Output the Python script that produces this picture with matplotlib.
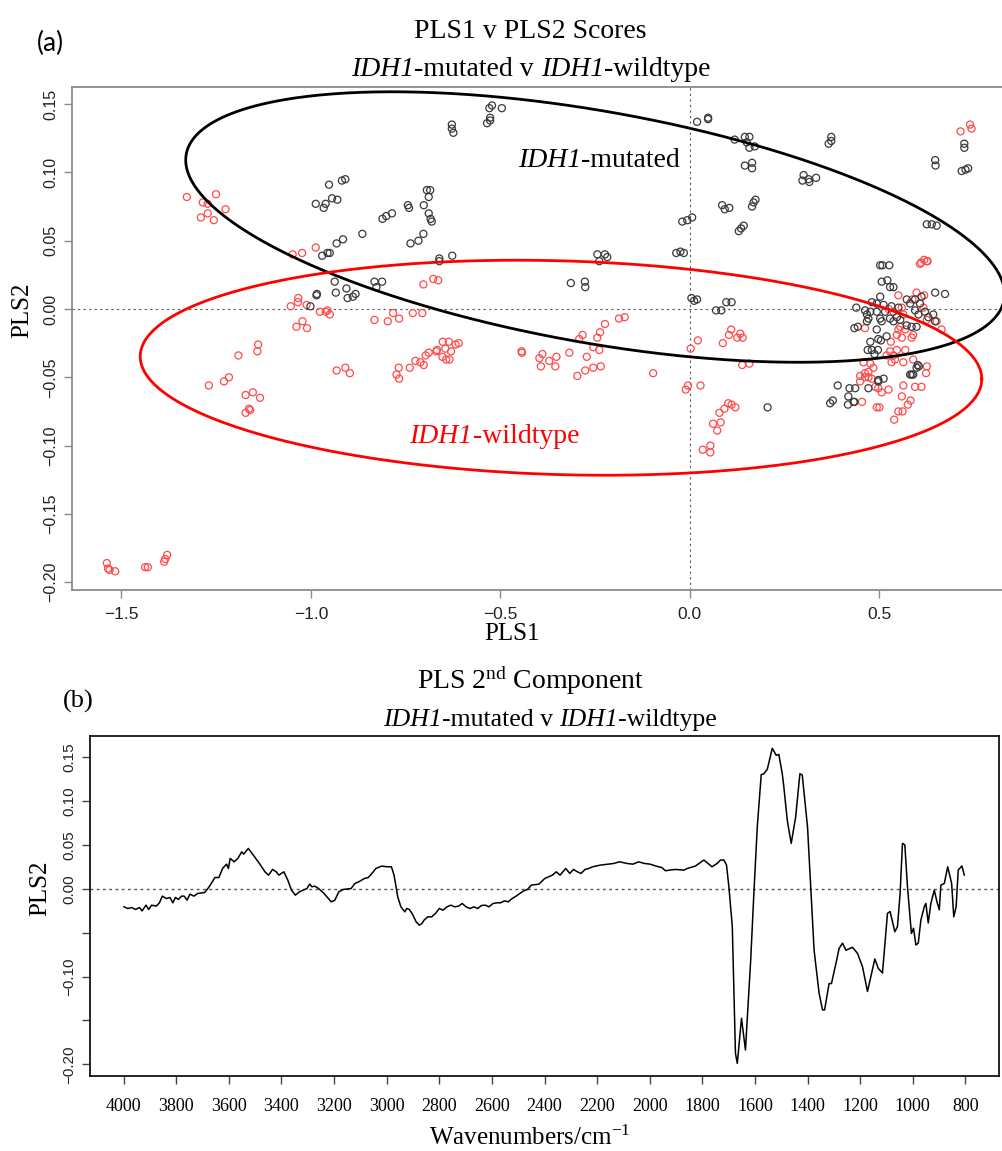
import numpy as np
import matplotlib
matplotlib.use("Agg")
import matplotlib.pyplot as plt
from matplotlib.offsetbox import TextArea, HPacker, AnnotationBbox

plt.rcParams['font.family'] = ['Liberation Serif', 'DejaVu Serif']
plt.rcParams['mathtext.fontset'] = 'custom'
plt.rcParams['mathtext.rm'] = 'Liberation Serif'
plt.rcParams['mathtext.it'] = 'Liberation Serif:italic'
plt.rcParams['mathtext.bf'] = 'Liberation Serif:bold'

# ---------------- Panel (a) data: PLS scores ----------------
mut_pls1 = [-0.952, -0.918, -0.909, -0.987, -0.961, -0.966, -0.944, -0.930, -0.864, -0.915,
            -0.932, -0.970, -0.956, -0.950, -0.937, -0.934, -0.906, -0.903, -0.889, -0.882,
            -0.985, -0.984, -1.001, -0.832, -0.812, -0.827, -0.811, -0.801, -0.786, -0.737,
            -0.716, -0.703, -0.744, -0.741, -0.702, -0.694, -0.685, -0.689, -0.689, -0.684,
            -0.681, -0.661, -0.661, -0.627, -0.628, -0.628, -0.624, -0.529, -0.522, -0.496,
            -0.535, -0.527, -0.527,
            0.019, 0.048, 0.048, 0.118, 0.145, 0.157, 0.157, 0.171, 0.150, 0.145,
            0.164, 0.164, 0.373, 0.373, 0.366, 0.300, 0.297, 0.313, 0.315, 0.333,
            0.085, 0.092, 0.104, 0.164, 0.173, 0.168, 0.129, 0.142, 0.135, -0.020,
            -0.007, 0.006, -0.036, -0.025, -0.016, -0.244, -0.224, -0.218, -0.239, -0.314,
            -0.277, -0.276, 0.004, 0.011, 0.019, 0.069, 0.083, 0.096, 0.110, 0.625,
            0.638, 0.651, 0.647, 0.648, 0.724, 0.724, 0.717, 0.734, 0.727, 0.647,
            0.673,
            0.205, 0.370, 0.377, 0.390, 0.421, 0.436, 0.471, 0.418, 0.417, 0.434,
            0.497, 0.511, 0.585, 0.598, 0.604,
            0.502, 0.508, 0.526, 0.506, 0.521, 0.528, 0.537, 0.502, 0.480, 0.493,
            0.439, 0.462, 0.476, 0.493, 0.511, 0.515, 0.532, 0.550, 0.572, 0.581,
            0.594, 0.607, 0.611, 0.594, 0.603, 0.620, 0.629, 0.642, 0.647, 0.467,
            0.471, 0.467, 0.502, 0.506, 0.528, 0.537, 0.546, 0.555, 0.572, 0.585,
            0.598, 0.434, 0.443, 0.493, 0.497, 0.504, 0.519, 0.476, 0.469, 0.480,
            0.496, 0.487, 0.601, 0.581, 0.589, 0.432, 0.497]
mut_pls2 = [0.091, 0.094, 0.095, 0.077, 0.077, 0.074, 0.081, 0.080, 0.055, 0.051,
            0.048, 0.039, 0.041, 0.041, 0.020, 0.012, 0.015, 0.008, 0.009, 0.011,
            0.010, 0.011, 0.002, 0.020, 0.020, 0.016, 0.066, 0.068, 0.070, 0.048,
            0.050, 0.055, 0.076, 0.074, 0.076, 0.087, 0.087, 0.082, 0.070, 0.066,
            0.064, 0.037, 0.035, 0.039, 0.135, 0.132, 0.129, 0.147, 0.149, 0.147,
            0.136, 0.138, 0.140,
            0.137, 0.140, 0.139, 0.124, 0.126, 0.126, 0.118, 0.119, 0.122, 0.105,
            0.107, 0.103, 0.126, 0.123, 0.121, 0.098, 0.094, 0.095, 0.093, 0.096,
            0.076, 0.073, 0.074, 0.075, 0.080, 0.078, 0.057, 0.061, 0.059, 0.064,
            0.065, 0.067, 0.041, 0.042, 0.041, 0.040, 0.040, 0.038, 0.035, 0.019,
            0.020, 0.016, 0.008, 0.006, 0.007, -0.001, -0.001, 0.005, 0.005, 0.062,
            0.062, 0.061, 0.109, 0.105, 0.121, 0.118, 0.101, 0.103, 0.102, 0.012,
            0.011,
            -0.072, -0.069, -0.067, -0.056, -0.058, -0.058, -0.058, -0.064, -0.070, -0.068,
            -0.053, -0.051, -0.048, -0.043, -0.042,
            0.032, 0.032, 0.032, 0.020, 0.021, 0.016, 0.016, 0.009, 0.005, 0.004,
            0.001, -0.001, -0.002, -0.002, 0.003, -0.002, 0.002, 0.001, 0.007, 0.004,
            0.007, 0.004, 0.009, -0.001, -0.004, -0.002, -0.006, -0.004, -0.009, -0.004,
            -0.007, -0.009, -0.007, -0.009, -0.007, -0.009, -0.006, -0.008, -0.012, -0.013,
            -0.013, -0.014, -0.013, -0.015, -0.022, -0.023, -0.020, -0.024, -0.030, -0.030,
            -0.030, -0.033, -0.041, -0.048, -0.048, -0.068, -0.052]

wt_pls1 = [-1.327, -1.285, -1.250, -1.272, -1.225, -1.290, -1.272, -1.256, -1.048, -1.023,
           -0.987, -0.703, -0.677, -0.664, -1.033, -1.034, -1.053, -1.011, -0.976, -0.961,
           -0.956, -0.950, -0.832, -0.797, -0.783, -0.767, -0.731, -0.706, -1.022, -1.038,
           -1.010, -1.139, -1.141, -1.191, -0.652, -0.636, -0.610, -0.618, -0.645, -0.630,
           -0.667, -0.669, -0.689, -0.697, -0.653, -0.643, -0.634, -0.724, -0.711, -0.702,
           -0.739, -0.768, -0.774, -0.932, -0.909, -0.897,
           -0.767, -1.269, -1.229, -1.216, -1.172, -1.153, -1.134, -1.172, -1.160, -1.163,
           -1.538, -1.535, -1.531, -1.516, -1.437, -1.430, -1.387, -1.384, -1.379,
           0.714, 0.739, 0.743, 0.610, 0.627, 0.618, -0.187, -0.172, -0.224, -0.237,
           -0.244, -0.283, -0.292, -0.255, -0.239, -0.318, -0.272, -0.352, -0.389, -0.397,
           -0.371, -0.355, -0.393, -0.444, -0.443, -0.097, -0.297, -0.276, -0.255, -0.235,
           0.002, 0.021, 0.087, 0.103, 0.109, 0.133, 0.139, 0.125, 0.138, 0.157,
           -0.011, -0.005, 0.028, 0.061, 0.081, 0.072, 0.078, 0.091, 0.101, 0.110,
           0.120, 0.034, 0.054, 0.054, 0.454, 0.489, 0.497, 0.506, 0.524, 0.493,
           0.500, 0.563, 0.559, 0.575, 0.582, 0.539, 0.550, 0.561, 0.594, 0.611,
           0.625, 0.623, 0.449, 0.462, 0.471, 0.484,
           0.625, 0.607, 0.550, 0.598, 0.618, 0.587, 0.524, 0.537, 0.559, 0.563,
           0.616, 0.625, 0.651, 0.664, 0.462, 0.555, 0.550, 0.546, 0.559, 0.585,
           0.589, 0.546, 0.568, 0.528, 0.519, 0.537, 0.541, 0.532, 0.563, 0.589,
           0.458, 0.476, 0.462, 0.449, 0.471, 0.480, 0.568, 0.530]
wt_pls2 = [0.082, 0.078, 0.084, 0.077, 0.073, 0.067, 0.070, 0.065, 0.040, 0.041,
           0.045, 0.018, 0.022, 0.021, 0.008, 0.005, 0.002, 0.003, -0.002, -0.002,
           -0.001, -0.004, -0.008, -0.009, -0.003, -0.007, -0.003, -0.003, -0.009, -0.013,
           -0.014, -0.026, -0.031, -0.034, -0.024, -0.024, -0.025, -0.026, -0.029, -0.031,
           -0.030, -0.031, -0.032, -0.034, -0.035, -0.037, -0.037, -0.038, -0.039, -0.041,
           -0.043, -0.043, -0.048, -0.045, -0.043, -0.047,
           -0.051, -0.056, -0.053, -0.050, -0.063, -0.061, -0.065, -0.076, -0.074, -0.073,
           -0.186, -0.190, -0.191, -0.192, -0.189, -0.189, -0.185, -0.183, -0.180,
           0.130, 0.135, 0.132, 0.034, 0.035, 0.036, -0.007, -0.006, -0.011, -0.017,
           -0.021, -0.019, -0.022, -0.028, -0.030, -0.032, -0.035, -0.035, -0.033, -0.036,
           -0.038, -0.042, -0.042, -0.031, -0.032, -0.047, -0.049, -0.045, -0.043, -0.042,
           -0.029, -0.023, -0.025, -0.019, -0.015, -0.018, -0.021, -0.021, -0.041, -0.040,
           -0.059, -0.056, -0.056, -0.084, -0.083, -0.089, -0.076, -0.073, -0.069, -0.070,
           -0.072, -0.103, -0.100, -0.105, -0.068, -0.057, -0.058, -0.061, -0.059, -0.072,
           -0.072, -0.056, -0.064, -0.070, -0.067, -0.081, -0.075, -0.075, -0.057, -0.057,
           -0.042, -0.047, -0.053, -0.050, -0.046, -0.043,
           0.035, 0.033, 0.010, 0.012, 0.010, 0.007, 0.000, -0.002, 0.001, -0.004,
           0.001, -0.008, -0.009, -0.015, -0.014, -0.013, -0.015, -0.019, -0.021, -0.021,
           -0.019, -0.030, -0.030, -0.031, -0.034, -0.034, -0.037, -0.039, -0.039, -0.037,
           -0.039, -0.040, -0.047, -0.049, -0.050, -0.051, -0.015, -0.024]

# confidence ellipses: centre, half-ranges and phase (degrees)
mut_ellipse = dict(cx=-0.25, cy=0.060, rx=1.08, ry=0.099, phase=119.7)
wt_ellipse = dict(cx=-0.34, cy=-0.043, rx=1.11, ry=0.0787, phase=96.0)

# ---------------- Panel (b) data: PLS 2nd component loading ----------------
wavenumber = [3999, 3984, 3969, 3955, 3940, 3930, 3915, 3905, 3894, 3876,
              3864, 3853, 3838, 3824, 3813, 3803, 3792, 3780, 3770, 3759,
              3748, 3733, 3719, 3692, 3675, 3653, 3638, 3624, 3609, 3602,
              3595, 3580, 3566, 3551, 3544, 3526, 3507, 3482, 3463, 3449,
              3434, 3420, 3410, 3391, 3376, 3362, 3347, 3332, 3318, 3303,
              3293, 3284, 3274, 3259, 3238, 3211, 3197, 3182, 3165, 3135,
              3121, 3106, 3085, 3070, 3051, 3041, 3019, 2997, 2982, 2972,
              2958, 2946, 2931, 2924, 2914, 2902, 2888, 2876, 2866, 2858,
              2844, 2829, 2815, 2800, 2786, 2771, 2756, 2742, 2727, 2713,
              2698, 2683, 2669, 2654, 2640, 2625, 2611, 2596, 2581, 2567,
              2552, 2538, 2523, 2508, 2494, 2479, 2465, 2450, 2421, 2399,
              2385, 2370, 2355, 2341, 2319, 2304, 2290, 2275, 2261, 2246,
              2232, 2217, 2188, 2159, 2137, 2115, 2086, 2064, 2042, 2020,
              1998, 1976, 1954, 1940, 1925, 1903, 1870, 1858, 1826, 1794,
              1763, 1743, 1731, 1718, 1708, 1699, 1686, 1674, 1667, 1651,
              1636, 1616, 1604, 1591, 1576, 1566, 1553, 1543, 1534, 1519,
              1509, 1496, 1490, 1477, 1462, 1445, 1429, 1420, 1400, 1388,
              1375, 1356, 1343, 1335, 1318, 1309, 1289, 1280, 1267, 1254,
              1229, 1210, 1191, 1172, 1159, 1144, 1131, 1115, 1096, 1086,
              1068, 1058, 1048, 1039, 1030, 1020, 1005, 997, 988, 979,
              969, 956, 950, 941, 931, 918, 908, 899, 893, 880,
              867, 852, 844, 835, 827, 813, 804]
pls2_loading = [-0.0206, -0.0225, -0.0214, -0.0236, -0.0214, -0.0252, -0.0187, -0.0236, -0.0187, -0.0198,
                -0.0160, -0.0084, -0.0111, -0.0100, -0.0160, -0.0100, -0.0122, -0.0084, -0.0084, -0.0130,
                -0.0062, -0.0084, -0.0054, -0.0043, 0.0022, 0.0128, 0.0128, 0.0231, 0.0280, 0.0231,
                0.0345, 0.0307, 0.0345, 0.0421, 0.0394, 0.0459, 0.0383, 0.0280, 0.0193, 0.0155,
                0.0220, 0.0193, 0.0155, 0.0193, 0.0098, -0.0016, -0.0073, -0.0035, -0.0016, 0.0003,
                0.0053, 0.0022, 0.0030, 0.0003, -0.0054, -0.0149, -0.0130, -0.0035, -0.0008, 0.0003,
                0.0060, 0.0079, 0.0117, 0.0128, 0.0193, 0.0231, 0.0258, 0.0250, 0.0250, 0.0155,
                -0.0092, -0.0206, -0.0263, -0.0225, -0.0236, -0.0290, -0.0377, -0.0415, -0.0396, -0.0358,
                -0.0320, -0.0320, -0.0282, -0.0225, -0.0244, -0.0206, -0.0187, -0.0206, -0.0198, -0.0168,
                -0.0206, -0.0225, -0.0206, -0.0225, -0.0191, -0.0187, -0.0206, -0.0168, -0.0160, -0.0160,
                -0.0138, -0.0149, -0.0111, -0.0084, -0.0054, -0.0024, -0.0008, 0.0041, 0.0053, 0.0117,
                0.0136, 0.0155, 0.0193, 0.0155, 0.0231, 0.0174, 0.0220, 0.0193, 0.0174, 0.0220,
                0.0231, 0.0250, 0.0269, 0.0280, 0.0288, 0.0307, 0.0288, 0.0280, 0.0307, 0.0288,
                0.0280, 0.0258, 0.0242, 0.0205, 0.0212, 0.0220, 0.0212, 0.0230, 0.0259, 0.0327,
                0.0250, 0.0290, 0.0327, 0.0327, 0.0270, 0.0023, -0.0430, -0.1875, -0.1990, -0.1476,
                -0.1837, -0.0810, -0.0053, 0.0706, 0.1300, 0.1310, 0.1360, 0.1485, 0.1600, 0.1520,
                0.1530, 0.1310, 0.1160, 0.0780, 0.0517, 0.0820, 0.1310, 0.1295, 0.0706, 0.0023,
                -0.0700, -0.1190, -0.1380, -0.1380, -0.1080, -0.1080, -0.0810, -0.0680, -0.0620, -0.0700,
                -0.0667, -0.0736, -0.0888, -0.1170, -0.1000, -0.0800, -0.0907, -0.0960, -0.0280, -0.0260,
                -0.0490, -0.0430, -0.0053, 0.0517, 0.0500, 0.0023, -0.0510, -0.0450, -0.0640, -0.0620,
                -0.0356, -0.0205, -0.0167, -0.0390, -0.0167, -0.0015, -0.0148, -0.0240, 0.0042, 0.0060,
                0.0250, 0.0060, -0.0320, -0.0205, 0.0213, 0.0260, 0.0156]

a_xticks = [-1.5, -1.0, -0.5, 0.0, 0.5]
a_yticks = [-0.20, -0.15, -0.10, -0.05, 0.00, 0.05, 0.10, 0.15]
b_xticks = list(range(4000, 799, -200))
b_yticks = [-0.20, -0.15, -0.10, -0.05, 0.00, 0.05, 0.10, 0.15]
b_ylabels = ['\u22120.20', '', '\u22120.10', '', '0.00', '0.05', '0.10', '0.15']

W, H = 1003, 1151
fig = plt.figure(figsize=(W / 100, H / 100), dpi=100)

def fx(p):
    return p / W

def fy(p):
    return 1 - p / H

SANS = ['Liberation Sans', 'DejaVu Sans']


def mixed_text(parent, xy, coords, parts, fontsize, color='black'):
    """Text made of (string, style) pieces laid side by side on one baseline."""
    children = [TextArea(s, textprops=dict(fontsize=fontsize, color=color, style=st,
                                           family=['Liberation Serif', 'DejaVu Serif']))
                for s, st in parts]
    box = HPacker(children=children, align='baseline', pad=0, sep=0)
    ab = AnnotationBbox(box, xy, xycoords=coords, frameon=False,
                        box_alignment=(0.5, 0.5), pad=0, zorder=6)
    parent.add_artist(ab)


SUBTITLE = [('IDH1', 'italic'), ('-mutated v ', 'normal'),
            ('IDH1', 'italic'), ('-wildtype', 'normal')]

# ---------------- Panel (a) ----------------
ax1 = fig.add_axes([fx(72), fy(590), fx(1003 - 72), (590 - 87) / H])
ax1.set_xlim(-1.63, 0.826)
ax1.set_ylim(-0.2057, 0.1625)
for s in ['left', 'bottom', 'top']:
    ax1.spines[s].set_color('#8a8a8a')
    ax1.spines[s].set_linewidth(1.3)
ax1.spines['right'].set_visible(False)

ax1.axhline(0, color='#555555', lw=0.8, ls=(0, (2, 3)), zorder=1)
ax1.axvline(0, color='#555555', lw=0.8, ls=(0, (2, 3)), zorder=1)

ax1.scatter(wt_pls1, wt_pls2, s=26, facecolors='none', edgecolors='#ff4a4a',
            linewidths=0.9, zorder=3)
ax1.scatter(mut_pls1, mut_pls2, s=26, facecolors='none', edgecolors='#3a3a3a',
            linewidths=0.9, zorder=3)

t = np.linspace(0, 2 * np.pi, 600)
for e, col in [(mut_ellipse, 'black'), (wt_ellipse, 'red')]:
    ph = np.deg2rad(e['phase'])
    ex = e['cx'] + e['rx'] * np.cos(t)
    ey = e['cy'] + e['ry'] * np.cos(t - ph)
    ax1.plot(ex, ey, color=col, lw=2.0, zorder=4)

mixed_text(ax1, (-0.24, 0.109), 'data', [('IDH1', 'italic'), ('-mutated', 'normal')], 20, 'black')
mixed_text(ax1, (-0.516, -0.0937), 'data', [('IDH1', 'italic'), ('-wildtype', 'normal')], 20, 'red')

ax1.set_xticks(a_xticks)
ax1.set_xticklabels([f'{v:.1f}'.replace('-', '\u2212') for v in a_xticks],
                    fontsize=12.5, family=SANS, color='#222222')
ax1.set_yticks(a_yticks)
ax1.set_yticklabels([f'{v:.2f}'.replace('-', '\u2212') for v in a_yticks],
                    fontsize=11.5, family=SANS, color='#222222', rotation=90, va='center')
ax1.tick_params(axis='both', direction='out', length=6, width=1.0, color='#8a8a8a')
ax1.tick_params(axis='x', pad=6)
ax1.tick_params(axis='y', pad=4)

fig.text(fx(512), fy(634), 'PLS1', fontsize=18, ha='center', va='center')
fig.text(fx(22), fy(310), 'PLS2', fontsize=18, ha='center', va='center', rotation=90)
fig.text(fx(530), fy(31), 'PLS1 v PLS2 Scores', fontsize=20, ha='center', va='center')
mixed_text(fig, (fx(531), fy(70)), 'figure fraction', SUBTITLE, 20)
fig.text(fx(50), fy(43), '(a)', fontsize=19, ha='center', va='center',
         family=['Lato', 'DejaVu Sans'])

# ---------------- Panel (b) ----------------
ax2 = fig.add_axes([fx(90), fy(1076), fx(999 - 90), (1076 - 736) / H])
ax2.set_xlim(4128, 672)
ax2.set_ylim(-0.2133, 0.174)
for s in ax2.spines.values():
    s.set_color('black')
    s.set_linewidth(1.2)
ax2.axhline(0, color='#555555', lw=1.0, ls=(0, (2, 2.5)), zorder=1)
ax2.plot(wavenumber, pls2_loading, color='black', lw=1.1, zorder=3)

ax2.set_xticks(b_xticks)
ax2.set_xticklabels([str(v) for v in b_xticks], fontsize=13)
ax2.set_yticks(b_yticks)
ax2.set_yticklabels(b_ylabels, fontsize=11, family=SANS, color='#222222',
                    rotation=90, va='center')
ax2.tick_params(axis='both', direction='out', length=6, width=1.0, color='#444444')
ax2.tick_params(axis='x', pad=10)
ax2.tick_params(axis='y', pad=4)

fig.text(fx(530), fy(1138), r'Wavenumbers/cm$^{-1}$', fontsize=18, ha='center', va='center')
fig.text(fx(40), fy(888), 'PLS2', fontsize=18, ha='center', va='center', rotation=90)
fig.text(fx(531), fy(681), r'PLS 2$^{\mathrm{nd}}$ Component', fontsize=20,
         ha='center', va='center')
mixed_text(fig, (fx(550), fy(720)), 'figure fraction', SUBTITLE, 18.5)
fig.text(fx(78), fy(701), '(b)', fontsize=19, ha='center', va='center')

fig.savefig('out.png', dpi=100)
